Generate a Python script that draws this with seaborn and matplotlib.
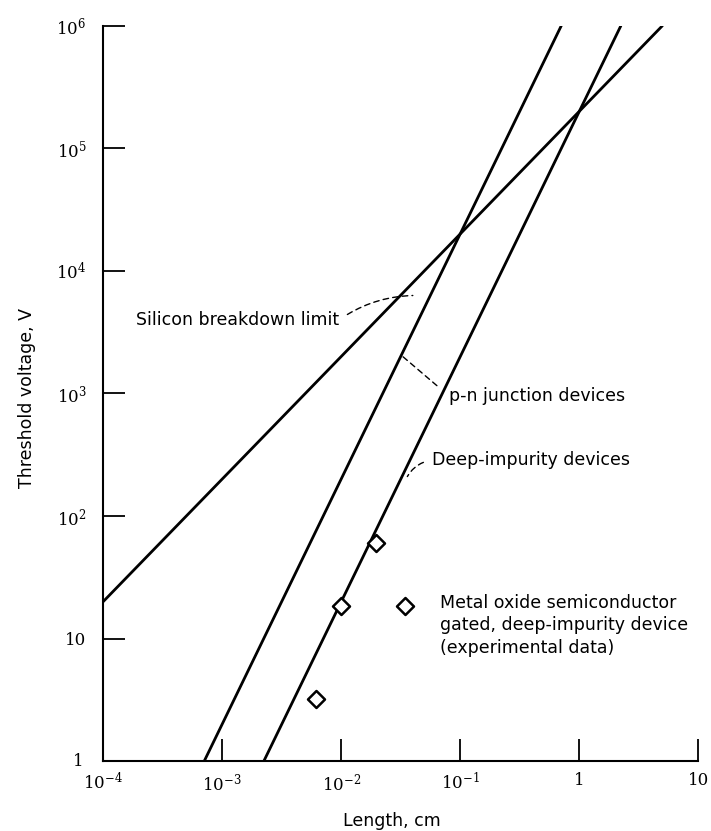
import numpy as np
import pandas as pd
import matplotlib
matplotlib.use('Agg')
import matplotlib.pyplot as plt
import seaborn as sns

# Line end points (length in cm, threshold voltage in V)
silicon_x = [1e-4, 5.0]
silicon_y = [20.0, 1e6]
pn_x = [7.07e-4, 0.707]
pn_y = [1.0, 1e6]
deep_x = [2.24e-3, 2.24]
deep_y = [1.0, 1e6]

# Experimental MOS gated deep-impurity device data
exp_x = [6.2e-3, 1.0e-2, 1.95e-2]
exp_y = [3.2, 18.5, 60.0]

x_ticks = [1e-4, 1e-3, 1e-2, 1e-1, 1, 10]
x_tick_labels = ['$10^{-4}$', '$10^{-3}$', '$10^{-2}$', '$10^{-1}$', '1', '10']
y_ticks = [10, 1e2, 1e3, 1e4, 1e5, 1e6]
y_tick_labels = ['10', '$10^{2}$', '$10^{3}$', '$10^{4}$', '$10^{5}$', '$10^{6}$']

sns.set_style('ticks')
plt.rcParams['font.family'] = ['DejaVu Sans']
plt.rcParams['mathtext.fontset'] = 'dejavuserif'
plt.rcParams['text.color'] = 'black'
plt.rcParams['axes.labelcolor'] = 'black'
plt.rcParams['xtick.color'] = 'black'
plt.rcParams['ytick.color'] = 'black'

fig = plt.figure(figsize=(7.11, 8.31), dpi=100)
ax = fig.add_axes([0.145, 0.084, 0.837, 0.885])

lines = pd.DataFrame({
    'x': silicon_x + pn_x + deep_x,
    'y': silicon_y + pn_y + deep_y,
    'name': ['silicon'] * 2 + ['pn'] * 2 + ['deep'] * 2,
})
sns.lineplot(data=lines, x='x', y='y', units='name', estimator=None,
             color='black', linewidth=2.0, ax=ax, sort=False)

exp = pd.DataFrame({'x': exp_x, 'y': exp_y})
sns.scatterplot(data=exp, x='x', y='y', marker='D', s=75, facecolor='white',
                edgecolor='black', linewidth=1.8, ax=ax, zorder=5)

ax.set_xscale('log')
ax.set_yscale('log')
ax.set_xlim(1e-4, 10)
ax.set_ylim(1, 1e6)

ax.set_xticks(x_ticks)
ax.set_xticklabels(x_tick_labels, family='DejaVu Serif', fontsize=12)
ax.set_yticks(y_ticks)
ax.set_yticklabels(y_tick_labels, family='DejaVu Serif', fontsize=12)
ax.minorticks_off()
ax.tick_params(direction='in', length=16, width=1.3, pad=12)
ax.tick_params(axis='x', pad=8)

# no tick at the lower-left corner
ax.xaxis.get_major_ticks()[0].tick1line.set_visible(False)

sns.despine(ax=ax)
for s in ['left', 'bottom']:
    ax.spines[s].set_linewidth(1.5)
    ax.spines[s].set_color('black')

txt = 12.5
ax.set_xlabel('Length, cm', fontsize=txt)
ax.set_ylabel('Threshold voltage, V', fontsize=txt)
ax.xaxis.set_label_coords(0.486, -0.069)
ax.yaxis.set_label_coords(-0.113, 0.494)

# "1" label in the lower-left corner
ax.text(-0.033, 0.0, '1', transform=ax.transAxes, ha='right', va='center',
        family='DejaVu Serif', fontsize=12)

lead = dict(arrowstyle='-', color='black', linewidth=1.0, linestyle=(0, (4, 3)),
            shrinkA=4, shrinkB=0)
ax.annotate('Silicon breakdown limit', xy=(0.04, 6.3e3), xytext=(1.9e-4, 4.0e3),
            fontsize=txt, va='center', ha='left',
            arrowprops=dict(lead, relpos=(1, 0.5), connectionstyle='arc3,rad=-0.15'))
ax.annotate('p-n junction devices', xy=(0.032, 2.05e3), xytext=(0.08, 960),
            fontsize=txt, va='center', ha='left',
            arrowprops=dict(lead, relpos=(0, 0.5), shrinkA=8))
ax.annotate('Deep-impurity devices', xy=(0.036, 210), xytext=(0.058, 285),
            fontsize=txt, va='center', ha='left',
            arrowprops=dict(lead, relpos=(0, 0.5), connectionstyle='arc3,rad=0.25'))

# legend for the experimental points
ax.scatter([0.508], [0.211], transform=ax.transAxes, marker='D', s=75,
           facecolor='white', edgecolor='black', linewidth=1.8, clip_on=False)
ax.text(0.566, 0.227, 'Metal oxide semiconductor\ngated, deep-impurity device\n(experimental data)',
        transform=ax.transAxes, fontsize=txt, va='top', ha='left', linespacing=1.3)

fig.savefig('out.png', dpi=100)
